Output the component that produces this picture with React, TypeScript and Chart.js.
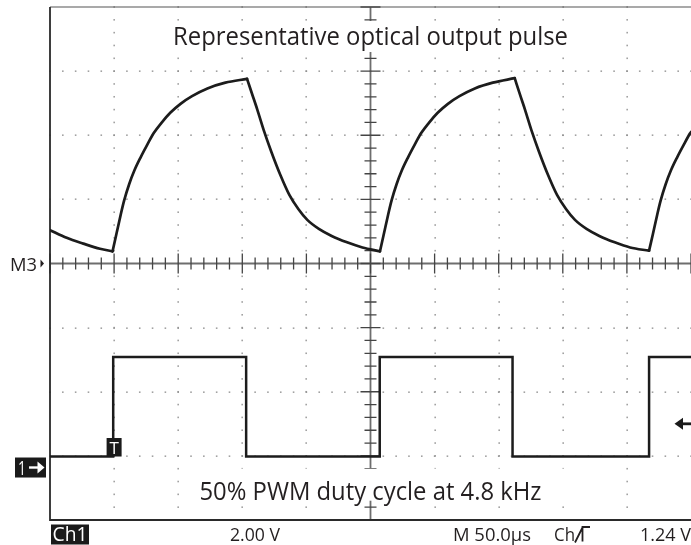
import React, { useEffect, useRef } from "react";
import { Chart, registerables } from "chart.js";

Chart.register(...registerables);

// Horizontal: time in µs (50 µs/div, 10 div), vertical: screen divisions (8 div)
const timeMin = -250;
const timeMax = 250;
const divMin = -4;
const divMax = 4;
const timeGridStep = 50;
const divGridStep = 1;

// M3: representative optical output pulse, in divisions above the M3 reference
const opticalTimes = [
  -250, -237, -224, -211,
  -201.2, -198.2, -195.2, -192.2, -188.2, -184.2, -179.2, -174.2, -169.2, -163.2, -156.2, -148.2, -139.2, -127.2, -113.2, -96.3,
  -92.3, -88.3, -83.3, -77.3, -70.3, -63.3, -56.3, -49.3, -40.3, -30.3, -18.3, -6.3, 7.4,
  10.4, 13.4, 16.4, 20.4, 24.4, 29.4, 34.4, 39.4, 45.4, 52.4, 60.4, 69.4, 81.4, 95.4, 112.5,
  116.5, 120.5, 125.5, 131.5, 138.5, 145.5, 152.5, 159.5, 168.5, 178.5, 190.5, 202.5, 217.3,
  220.3, 223.3, 226.3, 230.3, 234.3, 239.3, 244.3, 249.3, 250,
];
const opticalValues = [
  0.52, 0.4, 0.31, 0.23,
  0.19, 0.46, 0.73, 0.98, 1.24, 1.45, 1.66, 1.85, 2.03, 2.19, 2.35, 2.49, 2.61, 2.73, 2.82, 2.88,
  2.64, 2.4, 2.08, 1.74, 1.38, 1.07, 0.85, 0.68, 0.54, 0.43, 0.33, 0.25, 0.19,
  0.46, 0.73, 0.98, 1.24, 1.45, 1.66, 1.85, 2.03, 2.19, 2.35, 2.49, 2.61, 2.73, 2.82, 2.89,
  2.64, 2.4, 2.08, 1.74, 1.38, 1.07, 0.85, 0.68, 0.54, 0.43, 0.33, 0.25, 0.2,
  0.46, 0.73, 0.98, 1.24, 1.45, 1.66, 1.85, 2.03, 2.05,
];

// Ch1: 50% PWM drive (volts), 2.00 V/div, ground marker at -3.01 div
const pwmTimes = [-250, -200.7, -97.0, 7.2, 110.8, 217.3, 250];
const pwmVolts = [0, 3.1, 0, 3.1, 0, 3.1, 3.1];
const ch1VoltsPerDiv = 2.0;
const ch1GroundDiv = -3.01;
const m3ReferenceDiv = 0;
const triggerTime = -200;
const triggerArrowDiv = -2.5;

const titleText = "Representative optical output pulse";
const captionText = "50% PWM duty cycle at 4.8 kHz";
const ch1Label = "Ch1";
const voltsLabel = "2.00 V";
const timebaseLabel = "M 50.0\u00b5s";
const triggerSourceLabel = "Ch";
const triggerLevelLabel = "1.24 V";
const m3Label = "M3";
const ch1Marker = "1";
const triggerMarker = "T";

const INK = "#231f20";
const FONT = '"Open Sans", "Noto Sans", sans-serif';

function splitMonotone(xs: number[], ys: number[]) {
  const segs: { x: number; y: number }[][] = [];
  let cur = [{ x: xs[0], y: ys[0] }];
  let dir = 0;
  for (let i = 1; i < xs.length; i++) {
    const d = Math.sign(ys[i] - ys[i - 1]);
    if (dir !== 0 && d !== 0 && d !== dir) {
      segs.push(cur);
      cur = [{ x: xs[i - 1], y: ys[i - 1] }];
    }
    if (d !== 0) dir = d;
    cur.push({ x: xs[i], y: ys[i] });
  }
  segs.push(cur);
  return segs;
}

function fitText(
  ctx: CanvasRenderingContext2D,
  text: string,
  x: number,
  y: number,
  font: string,
  width: number,
  align: CanvasTextAlign
) {
  ctx.font = font;
  const w = ctx.measureText(text).width;
  const s = width / w;
  ctx.save();
  ctx.translate(x, y);
  ctx.scale(s, 1);
  ctx.textAlign = align;
  ctx.textBaseline = "alphabetic";
  ctx.fillText(text, 0, 0);
  ctx.restore();
}

const graticulePlugin = {
  id: "graticule",
  beforeDraw(chart: any) {
    const ctx = chart.ctx as CanvasRenderingContext2D;
    ctx.save();
    ctx.fillStyle = "#ffffff";
    ctx.fillRect(0, 0, chart.width, chart.height);
    ctx.restore();
  },
  beforeDatasetsDraw(chart: any) {
    const ctx = chart.ctx as CanvasRenderingContext2D;
    const xs = chart.scales.x;
    const ys = chart.scales.y;
    const { left, right, top, bottom } = chart.chartArea;
    const cx = xs.getPixelForValue(0);
    const cy = ys.getPixelForValue(0);
    ctx.save();

    // dotted grid lines
    ctx.fillStyle = "#8c8c8c";
    for (let t = timeMin + timeGridStep; t < timeMax; t += timeGridStep) {
      if (t === 0) continue;
      const px = xs.getPixelForValue(t);
      for (let v = divMin; v <= divMax + 1e-6; v += divGridStep / 5) {
        const py = ys.getPixelForValue(v);
        ctx.fillRect(Math.round(px) - 0.5, py - 0.8, 1.3, 1.6);
      }
    }
    for (let v = divMin + divGridStep; v < divMax; v += divGridStep) {
      if (v === 0) continue;
      const py = ys.getPixelForValue(v);
      for (let t = timeMin; t <= timeMax + 1e-6; t += timeGridStep / 5) {
        const px = xs.getPixelForValue(t);
        ctx.fillRect(px - 0.8, Math.round(py) - 0.5, 1.6, 1.3);
      }
    }

    // centre axes
    ctx.strokeStyle = "#6e6e6e";
    ctx.lineWidth = 1.8;
    ctx.beginPath();
    ctx.moveTo(left, cy);
    ctx.lineTo(right, cy);
    ctx.moveTo(cx, top);
    ctx.lineTo(cx, bottom);
    ctx.stroke();

    ctx.strokeStyle = "#444";
    ctx.lineWidth = 1.3;
    ctx.beginPath();
    let k = 0;
    for (let t = timeMin; t <= timeMax + 1e-6; t += timeGridStep / 5, k++) {
      const px = xs.getPixelForValue(t);
      const len = k % 5 === 0 ? 10 : 6;
      ctx.moveTo(px, cy - len);
      ctx.lineTo(px, cy + len);
    }
    k = 0;
    for (let v = divMin; v <= divMax + 1e-6; v += divGridStep / 5, k++) {
      const py = ys.getPixelForValue(v);
      const len = k % 5 === 0 ? 10 : 6;
      ctx.moveTo(cx - len, py);
      ctx.lineTo(cx + len, py);
    }
    ctx.stroke();

    // border
    ctx.strokeStyle = "#555";
    ctx.lineWidth = 1.2;
    ctx.beginPath();
    ctx.moveTo(left, top);
    ctx.lineTo(right, top);
    ctx.stroke();
    ctx.strokeStyle = "#2a2a2a";
    ctx.lineWidth = 1.8;
    ctx.beginPath();
    ctx.moveTo(left, top);
    ctx.lineTo(left, bottom);
    ctx.lineTo(right, bottom);
    ctx.stroke();

    // text boxes with white background
    const bigFont = `25px ${FONT}`;
    ctx.fillStyle = "#ffffff";
    ctx.fillRect(cx - 206, top + 14, 412, 31);
    ctx.fillRect(cx - 186, ys.getPixelForValue(-3.2), 383, 32);
    ctx.fillStyle = INK;
    fitText(ctx, titleText, cx, top + 38, bigFont, 395, "center");
    fitText(ctx, captionText, cx, bottom - 20.5, bigFont, 342, "center");

    ctx.restore();
  },
  afterDatasetsDraw(chart: any) {
    const ctx = chart.ctx as CanvasRenderingContext2D;
    const xs = chart.scales.x;
    const ys = chart.scales.y;
    const { left, right, bottom } = chart.chartArea;
    const smallFont = `19px ${FONT}`;
    ctx.save();

    // trigger "T" marker
    const tx = xs.getPixelForValue(triggerTime);
    const gy = ys.getPixelForValue(ch1GroundDiv);
    ctx.fillStyle = "#1a1a1a";
    ctx.fillRect(tx - 7.5, gy - 18.5, 15, 18.5);
    ctx.fillStyle = "#ffffff";
    ctx.font = `17px ${FONT}`;
    ctx.textAlign = "center";
    ctx.textBaseline = "alphabetic";
    ctx.fillText(triggerMarker, tx, gy - 2.5);

    // Ch1 ground marker "1 →"
    ctx.fillStyle = "#1a1a1a";
    ctx.fillRect(15, gy + 1, 31, 20);
    ctx.fillStyle = "#ffffff";
    fitText(ctx, ch1Marker, 18, gy + 18, `20px ${FONT}`, 8, "left");
    ctx.strokeStyle = "#ffffff";
    ctx.lineWidth = 2.4;
    ctx.beginPath();
    ctx.moveTo(29, gy + 11);
    ctx.lineTo(40, gy + 11);
    ctx.stroke();
    ctx.beginPath();
    ctx.moveTo(44.5, gy + 11);
    ctx.lineTo(37.5, gy + 5);
    ctx.lineTo(37.5, gy + 17);
    ctx.closePath();
    ctx.fill();

    // M3 reference marker
    const my = ys.getPixelForValue(m3ReferenceDiv);
    ctx.fillStyle = INK;
    fitText(ctx, m3Label, 37, my + 7.5, smallFont, 27, "right");
    ctx.beginPath();
    ctx.moveTo(40.5, my - 4);
    ctx.lineTo(44, my);
    ctx.lineTo(40.5, my + 4);
    ctx.closePath();
    ctx.fill();

    // trigger level arrow on the right
    const ay = ys.getPixelForValue(triggerArrowDiv);
    ctx.fillStyle = "#1a1a1a";
    ctx.strokeStyle = "#1a1a1a";
    ctx.lineWidth = 2.8;
    ctx.beginPath();
    ctx.moveTo(681, ay);
    ctx.lineTo(right, ay);
    ctx.stroke();
    ctx.beginPath();
    ctx.moveTo(674.5, ay);
    ctx.lineTo(683, ay - 6);
    ctx.lineTo(683, ay + 6);
    ctx.closePath();
    ctx.fill();

    // bottom status bar
    const by = bottom + 20.5;
    ctx.fillStyle = "#1a1a1a";
    ctx.fillRect(left + 1, bottom + 4.5, 38, 20);
    ctx.fillStyle = "#ffffff";
    fitText(ctx, ch1Label, left + 2.5, by, `20px ${FONT}`, 35, "left");
    ctx.fillStyle = INK;
    fitText(ctx, voltsLabel, 230, by, smallFont, 50, "left");
    fitText(ctx, timebaseLabel, 453, by, smallFont, 78, "left");
    fitText(ctx, triggerSourceLabel, 554, by, smallFont, 21, "left");
    fitText(ctx, triggerLevelLabel, 691, by, smallFont, 51, "right");
    // rising-edge trigger glyph
    ctx.strokeStyle = INK;
    ctx.lineWidth = 1.8;
    ctx.beginPath();
    ctx.moveTo(575, by + 2);
    ctx.lineTo(582.5, by - 13);
    ctx.moveTo(582.5, by + 1);
    ctx.lineTo(582.5, by - 13.5);
    ctx.lineTo(590, by - 13.5);
    ctx.stroke();

    ctx.restore();
  },
};

export default function App() {
  const canvasRef = useRef<HTMLCanvasElement | null>(null);

  useEffect(() => {
    const canvas = canvasRef.current;
    if (!canvas) return;

    const opticalSegments = splitMonotone(opticalTimes, opticalValues);
    const pwmPoints = pwmTimes.map((t, i) => ({
      x: t,
      y: ch1GroundDiv + pwmVolts[i] / ch1VoltsPerDiv,
    }));

    const datasets: any[] = opticalSegments.map((seg) => ({
      data: seg,
      borderColor: "#1c1c1c",
      borderWidth: 2.7,
      pointRadius: 0,
      fill: false,
      cubicInterpolationMode: "monotone",
      borderCapStyle: "round",
      borderJoinStyle: "round",
    }));
    datasets.push({
      data: pwmPoints,
      borderColor: "#1c1c1c",
      borderWidth: 2.5,
      pointRadius: 0,
      fill: false,
      stepped: true,
      borderJoinStyle: "miter",
    });

    const chart = new Chart(canvas, {
      type: "line",
      data: { datasets },
      options: {
        animation: false,
        responsive: false,
        devicePixelRatio: 1,
        layout: { padding: { left: 50, top: 7, right: -1, bottom: 25 } },
        scales: {
          x: { type: "linear", min: timeMin, max: timeMax, display: false },
          y: { type: "linear", min: divMin, max: divMax, display: false },
        },
        plugins: {
          legend: { display: false },
          tooltip: { enabled: false },
          title: { display: false },
        },
        events: [],
      },
      plugins: [graticulePlugin],
    });

    return () => chart.destroy();
  }, []);

  return (
    <div
      style={{
        position: "fixed",
        left: 0,
        top: 0,
        width: 691,
        height: 545,
        background: "#ffffff",
      }}
    >
      <canvas ref={canvasRef} width={691} height={545} style={{ display: "block" }} />
    </div>
  );
}
